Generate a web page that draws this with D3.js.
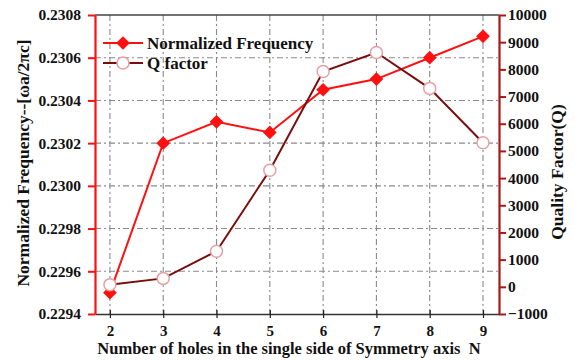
<!DOCTYPE html>
<html>
<head>
<meta charset="utf-8">
<script src="https://cdn.jsdelivr.net/npm/d3@7/dist/d3.min.js"></script>
<style>
  html, body { margin: 0; padding: 0; background: #fff; }
</style>
</head>
<body>
<svg id="chart" width="575" height="360"></svg>
<script>
// Number of holes on one side of the symmetry axis
const holes = [2, 3, 4, 5, 6, 7, 8, 9];
// Normalized frequency (ωa/2πc)
const freq = [0.22950, 0.23020, 0.23030, 0.23025, 0.23045, 0.23050, 0.23060, 0.23070];
// Quality factor Q
const qFactor = [80, 310, 1310, 4290, 7920, 8620, 7300, 5300];

const freqTicks = [0.2294, 0.2296, 0.2298, 0.2300, 0.2302, 0.2304, 0.2306, 0.2308];
const qTicks = [-1000, 0, 1000, 2000, 3000, 4000, 5000, 6000, 7000, 8000, 9000, 10000];
const seriesNames = ["Normalized Frequency", "Q factor"];

const FONT = "Liberation Serif";
const svg = d3.select("#chart");
const L = 95, R = 499, T = 15, B = 314;

const x = d3.scaleLinear().domain([1.72, 9.3]).range([L, R]);
const yF = d3.scaleLinear().domain([0.2294, 0.2308]).range([B, T]);
const yQ = d3.scaleLinear().domain([-1000, 10000]).range([B, T]);

const red = "#ff1010", darkRed = "#a81818", qLine = "#7a0c0c", qMark = "#e6a0a4";
const grid = "#8a8a8a";

function styleText(sel, size) {
  sel.attr("font-family", FONT).attr("font-weight", "bold").attr("font-size", size).attr("fill", "#111");
}

// grid lines
const g = svg.append("g").attr("stroke", grid).attr("stroke-width", 1.1)
  .attr("stroke-dasharray", "6,3,2,3");
g.selectAll("line.v").data(holes).join("line").attr("class", "v")
  .attr("x1", d => x(d)).attr("x2", d => x(d)).attr("y1", T).attr("y2", B);
g.selectAll("line.h").data(freqTicks.slice(1, -1)).join("line").attr("class", "h")
  .attr("x1", L).attr("x2", R).attr("y1", d => yF(d)).attr("y2", d => yF(d));

// top frame
svg.append("line").attr("x1", L).attr("x2", R).attr("y1", T).attr("y2", T)
  .attr("stroke", "#444").attr("stroke-width", 1.5);

// bottom axis
const xAxis = svg.append("g").attr("transform", `translate(0,${B})`)
  .call(d3.axisBottom(x).tickValues(holes).tickFormat(d3.format("d")).tickSize(5).tickSizeOuter(0));
xAxis.attr("font-family", FONT);
xAxis.select(".domain").attr("stroke", "#333").attr("stroke-width", 1.5);
xAxis.selectAll(".tick line").attr("stroke", "#222").attr("y1", -4).attr("y2", 4).attr("stroke-width", 1.2);
xAxis.selectAll(".tick text").attr("y", 11).call(styleText, 15);

// left axis
const yAxisL = svg.append("g").attr("transform", `translate(${L},0)`)
  .call(d3.axisLeft(yF).tickValues(freqTicks).tickFormat(d3.format(".4f")).tickSize(7).tickSizeOuter(0));
yAxisL.attr("font-family", FONT);
yAxisL.select(".domain").attr("stroke", red).attr("stroke-width", 2.2);
yAxisL.selectAll(".tick line").attr("stroke", red).attr("stroke-width", 2);
yAxisL.selectAll(".tick text").attr("x", -14).call(styleText, 15.5);

// right axis
const yAxisR = svg.append("g").attr("transform", `translate(${R},0)`)
  .call(d3.axisRight(yQ).tickValues(qTicks).tickFormat(d3.format("d")).tickSize(7).tickSizeOuter(0));
yAxisR.attr("font-family", FONT);
yAxisR.select(".domain").attr("stroke", darkRed).attr("stroke-width", 2.2);
yAxisR.selectAll(".tick line").attr("stroke", darkRed).attr("stroke-width", 2);
yAxisR.selectAll(".tick text").attr("x", 9).call(styleText, 15.5);

// axis titles
svg.append("text").attr("x", 289).attr("y", 354).attr("text-anchor", "middle")
  .call(styleText, 16.5)
  .text("Number of holes in the single side of Symmetry axis\u00a0\u00a0N");
svg.append("text").attr("transform", "translate(29,163) rotate(-90)").attr("text-anchor", "middle")
  .call(styleText, 17.5).text("Normalized Frequency--[\u03c9a/2\u03c0c]");
svg.append("text").attr("transform", "translate(563,172) rotate(-90)").attr("text-anchor", "middle")
  .call(styleText, 17.5).text("Quality Factor(Q)");

const fData = holes.map((h, i) => [h, freq[i]]);
const qData = holes.map((h, i) => [h, qFactor[i]]);
const diamond = d3.symbol().type(d3.symbolDiamond2).size(120);

// frequency series
svg.append("path").datum(fData).attr("fill", "none").attr("stroke", red).attr("stroke-width", 2)
  .attr("d", d3.line().x(d => x(d[0])).y(d => yF(d[1])));
// Q series
svg.append("path").datum(qData).attr("fill", "none").attr("stroke", qLine).attr("stroke-width", 2)
  .attr("d", d3.line().x(d => x(d[0])).y(d => yQ(d[1])));

svg.selectAll("path.fm").data(fData).join("path").attr("class", "fm")
  .attr("transform", d => `translate(${x(d[0])},${yF(d[1])})`)
  .attr("d", diamond).attr("fill", red);
svg.selectAll("circle.qm").data(qData).join("circle").attr("class", "qm")
  .attr("cx", d => x(d[0])).attr("cy", d => yQ(d[1])).attr("r", 6)
  .attr("fill", "#fff").attr("stroke", qMark).attr("stroke-width", 1.5);

// legend
const leg = svg.append("g");
const ly = [43, 63];
leg.append("line").attr("x1", 103).attr("x2", 143).attr("y1", ly[0]).attr("y2", ly[0])
  .attr("stroke", red).attr("stroke-width", 2);
leg.append("path").attr("transform", `translate(123,${ly[0]})`).attr("d", diamond).attr("fill", red);
leg.append("line").attr("x1", 103).attr("x2", 143).attr("y1", ly[1]).attr("y2", ly[1])
  .attr("stroke", qLine).attr("stroke-width", 2);
leg.append("circle").attr("cx", 123).attr("cy", ly[1]).attr("r", 6)
  .attr("fill", "#fff").attr("stroke", qMark).attr("stroke-width", 1.5);
leg.selectAll("text").data(seriesNames).join("text")
  .attr("x", 147).attr("y", (d, i) => ly[i] + 5.5).call(styleText, 17)
  .text(d => d);
</script>
</body>
</html>
